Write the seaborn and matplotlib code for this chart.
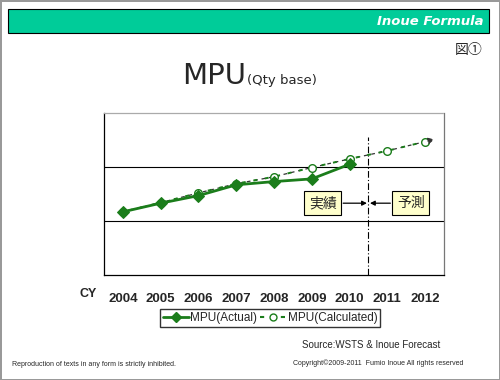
import pandas as pd
import matplotlib.pyplot as plt
import seaborn as sns
from matplotlib.patches import Rectangle
from matplotlib.lines import Line2D

# chart data (no units on the y axis)
years = [2004, 2005, 2006, 2007, 2008, 2009, 2010, 2011, 2012]
mpu_actual = [1.17, 1.33, 1.47, 1.67, 1.73, 1.78, 2.05]
mpu_calc = [1.17, 1.34, 1.52, 1.69, 1.82, 1.99, 2.15, 2.30, 2.47]
split_year = 2010.5

GREEN = "#1b7d1b"
HEADER = "#00cc99"


def main():
    sns.set_style("white")
    plt.rcParams["font.family"] = ["Liberation Sans", "Noto Sans CJK JP", "DejaVu Sans"]

    actual_df = pd.DataFrame({"year": years[:len(mpu_actual)], "mpu": mpu_actual})
    calc_df = pd.DataFrame({"year": years, "mpu": mpu_calc})

    fig = plt.figure(figsize=(5, 3.8), dpi=100)
    fig.patch.set_edgecolor("#999999")
    fig.patch.set_linewidth(2)

    # header band
    fig.patches.append(Rectangle((0.016, 0.913), 0.962, 0.063, transform=fig.transFigure,
                                 facecolor=HEADER, edgecolor="black", linewidth=0.8))
    fig.text(0.968, 0.944, "Inoue Formula", color="white", fontsize=9.5, fontweight="bold",
             fontstyle="italic", ha="right", va="center", family="DejaVu Sans")
    fig.text(0.966, 0.868, "図①", fontsize=10, ha="right", va="center",
             family=["Noto Sans CJK JP", "DejaVu Sans"])

    # title
    fig.text(0.492, 0.778, "MPU", fontsize=21, ha="right", va="baseline", family="DejaVu Sans")
    fig.text(0.494, 0.780, "(Qty base)", fontsize=9.5, ha="left", va="baseline", family="DejaVu Sans")

    ax = fig.add_axes([0.208, 0.2763, 0.68, 0.4263])

    # calculated trend: black dashes under green dots
    sns.lineplot(data=calc_df, x="year", y="mpu", ax=ax, color="#333333", linewidth=0.9,
                 linestyle=(0, (3, 3)), legend=False)
    sns.lineplot(data=calc_df, x="year", y="mpu", ax=ax, color=GREEN, linewidth=1.4,
                 linestyle=(3, (2, 4)), marker="o", markersize=5.5, markerfacecolor="white",
                 markeredgecolor=GREEN, markeredgewidth=1.0, legend=False, zorder=3)
    sns.lineplot(data=actual_df, x="year", y="mpu", ax=ax, color=GREEN, linewidth=2,
                 marker="D", markersize=6.5, markerfacecolor=GREEN, markeredgecolor=GREEN,
                 legend=False, zorder=4)

    # arrow head continuing the forecast
    last_x, last_y = years[-1], mpu_calc[-1]
    slope = mpu_calc[-1] - mpu_calc[-2]
    ax.annotate("", xy=(last_x + 0.32, last_y + slope * 0.32), xytext=(last_x, last_y),
                arrowprops=dict(arrowstyle="-|>", color="#333333", lw=0.9,
                                linestyle=(0, (3, 3)), mutation_scale=9))

    # actual / forecast split
    ax.axvline(split_year, ymax=0.855, color="black", linewidth=0.8, linestyle=(0, (6, 2, 1, 2)))
    box = dict(boxstyle="square,pad=0.35", facecolor="#ffffcc", edgecolor="black", linewidth=0.8)
    ax.text(2009.29, 1.33, "実績", fontsize=10, ha="center", va="center", bbox=box,
            family=["Noto Sans CJK JP"])
    ax.text(2011.62, 1.33, "予測", fontsize=10, ha="center", va="center", bbox=box,
            family=["Noto Sans CJK JP"])
    arrow = dict(arrowstyle="-|>", color="black", lw=0.9, mutation_scale=7, shrinkA=0, shrinkB=0)
    ax.annotate("", xy=(split_year - 0.04, 1.33), xytext=(2009.83, 1.33), arrowprops=arrow)
    ax.annotate("", xy=(split_year + 0.04, 1.33), xytext=(2011.08, 1.33), arrowprops=arrow)

    ax.set_xlim(2003.5, 2012.5)
    ax.set_ylim(0, 3)
    ax.set_xticks(years)
    ax.set_xticklabels([str(y) for y in years], fontsize=9.5, fontweight="bold")
    ax.set_xticks([y + 0.5 for y in years[:-1]], minor=True)
    ax.tick_params(axis="x", which="major", length=0, pad=13)
    ax.tick_params(axis="x", which="minor", direction="in", length=3, width=0.8, color="black")
    ax.set_yticks([1, 2])
    ax.set_yticklabels([])
    ax.tick_params(axis="y", length=0)
    ax.grid(axis="y", color="black", linewidth=0.8)
    ax.set_xlabel("")
    ax.set_ylabel("")
    ax.spines["left"].set_color("black")
    ax.spines["bottom"].set_color("black")
    ax.spines["top"].set_color("#aaaaaa")
    ax.spines["top"].set_linestyle((0, (1, 1)))
    ax.spines["right"].set_color("#777777")
    for s in ax.spines.values():
        s.set_linewidth(0.9)

    fig.text(0.176, 0.227, "CY", fontsize=9, fontweight="bold", ha="center", va="center")

    handles = [
        Line2D([], [], color=GREEN, linewidth=2, marker="D", markersize=5),
        Line2D([], [], color=GREEN, linewidth=1.5, linestyle=(0, (2, 3)), marker="o",
               markersize=5, markerfacecolor="white"),
    ]
    fig.legend(handles, ["MPU(Actual)", "MPU(Calculated)"], loc="center", ncol=2,
               bbox_to_anchor=(0.54, 0.163), fontsize=8.5, frameon=True, fancybox=False,
               edgecolor="black", handlelength=2.2, handletextpad=0.1, columnspacing=0.3,
               borderpad=0.25, borderaxespad=0)

    fig.text(0.604, 0.092, "Source:WSTS & Inoue Forecast", fontsize=7, ha="left", va="center")
    fig.text(0.586, 0.044, "Copyright©2009-2011  Fumio Inoue All rights reserved", fontsize=5,
             ha="left", va="center")
    fig.text(0.024, 0.042, "Reproduction of texts in any form is strictly inhibited.", fontsize=5,
             ha="left", va="center")

    fig.savefig("out.png", dpi=100)


if __name__ == "__main__":
    main()
